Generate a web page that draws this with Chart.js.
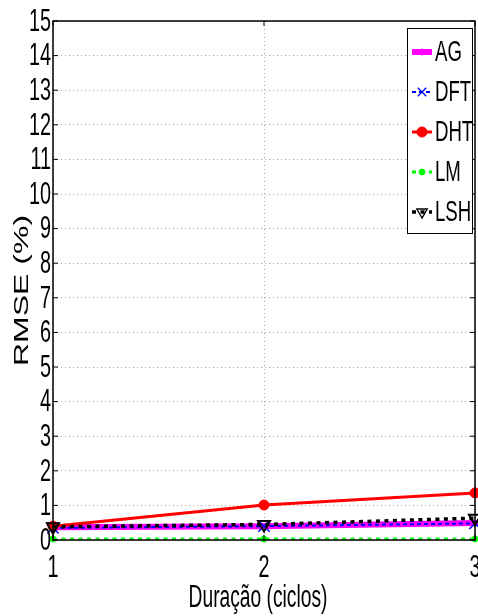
<!DOCTYPE html>
<html>
<head>
<meta charset="utf-8">
<script src="https://cdn.jsdelivr.net/npm/chart.js@4.4.0/dist/chart.umd.min.js"></script>
<style>
  html, body { margin: 0; padding: 0; background: #fff; }
  #wrap { width: 478px; height: 616px; }
</style>
</head>
<body>
<div id="wrap"><canvas id="chart"></canvas></div>
<script>
// RMSE por duração do distúrbio
const duracao = ['1', '2', '3'];
const ag  = [0.37, 0.40, 0.49];
const dft = [0.35, 0.40, 0.48];
const dht = [0.40, 1.01, 1.36];
const lm  = [0.03, 0.03, 0.03];
const lsh = [0.38, 0.45, 0.63];

const yMin = 0, yMax = 15, yStep = 1;
const xTitle = 'Duração (ciclos)';
const yTitle = 'RMSE (%)';

const FONT = '"Liberation Sans", Arial, sans-serif';
const SX = 0.62; // horizontal squeeze for all text

// draw text squeezed horizontally
function squeezed(ctx, text, x, y, size, align, baseline) {
  ctx.save();
  ctx.scale(SX, 1);
  ctx.font = size + 'px ' + FONT;
  ctx.fillStyle = '#000';
  ctx.textAlign = align;
  ctx.textBaseline = baseline;
  ctx.fillText(text, x / SX, y);
  ctx.restore();
}

const axesPlugin = {
  id: 'matlabAxes',
  afterDraw(chart) {
    const ctx = chart.ctx;
    const a = chart.chartArea;
    const xs = chart.scales.x, ys = chart.scales.y;

    // box
    ctx.save();
    ctx.strokeStyle = '#000';
    ctx.lineWidth = 1.5;
    ctx.strokeRect(a.left, a.top, a.right - a.left, a.bottom - a.top);

    // inward tick marks
    ctx.lineWidth = 1;
    ctx.beginPath();
    ys.ticks.forEach(t => {
      const y = ys.getPixelForValue(t.value);
      ctx.moveTo(a.left, y); ctx.lineTo(a.left + 5, y);
      ctx.moveTo(a.right, y); ctx.lineTo(a.right - 5, y);
    });
    xs.ticks.forEach(t => {
      const x = xs.getPixelForValue(t.value);
      ctx.moveTo(x, a.bottom); ctx.lineTo(x, a.bottom - 5);
      ctx.moveTo(x, a.top); ctx.lineTo(x, a.top + 5);
    });
    ctx.stroke();
    ctx.restore();

    // tick labels
    ys.ticks.forEach(t => {
      squeezed(ctx, String(t.value), a.left - 2, ys.getPixelForValue(t.value) + 1, 32, 'right', 'middle');
    });
    xs.ticks.forEach(t => {
      squeezed(ctx, xs.getLabelForValue(t.value), xs.getPixelForValue(t.value), a.bottom + 37, 32, 'center', 'alphabetic');
    });

    // axis titles
    squeezed(ctx, xTitle, 258, 607, 31, 'center', 'alphabetic');
    ctx.save();
    ctx.scale(SX, 1);
    ctx.translate(28 / SX, (a.top + a.bottom) / 2 + 10);
    ctx.rotate(-Math.PI / 2);
    ctx.font = '32px ' + FONT;
    ctx.fillStyle = '#000';
    ctx.textAlign = 'center';
    ctx.textBaseline = 'alphabetic';
    ctx.fillText(yTitle, 0, 0);
    ctx.restore();

    // legend
    const box = { l: 407, t: 28, r: 472, b: 233 };
    ctx.save();
    ctx.fillStyle = '#fff';
    ctx.fillRect(box.l, box.t, box.r - box.l, box.b - box.t);
    ctx.strokeStyle = '#000';
    ctx.lineWidth = 1;
    ctx.strokeRect(box.l + 0.5, box.t + 0.5, box.r - box.l, box.b - box.t);
    ctx.restore();
    chart.data.datasets.forEach((ds, i) => {
      const y = 52 + i * 40;
      ctx.save();
      ctx.strokeStyle = ds.borderColor;
      ctx.lineWidth = ds.borderWidth;
      ctx.setLineDash(ds.borderDash || []);
      ctx.beginPath();
      ctx.moveTo(412, y); ctx.lineTo(432, y);
      ctx.stroke();
      ctx.setLineDash([]);
      ctx.strokeStyle = ds.pointBorderColor;
      ctx.fillStyle = ds.pointBackgroundColor;
      ctx.lineWidth = Math.min(ds.pointBorderWidth, 1.4);
      Chart.helpers.drawPoint(ctx, {
        pointStyle: ds.pointStyle,
        rotation: ds.pointRotation || 0,
        radius: Math.min(ds.pointRadius, 6),
        borderWidth: Math.min(ds.pointBorderWidth, 1.4)
      }, 422, y);
      ctx.restore();
      squeezed(ctx, ds.label, 435, y + 1, 30, 'left', 'middle');
    });
  }
};

new Chart(document.getElementById('chart'), {
  type: 'line',
  data: {
    labels: duracao,
    datasets: [
      { label: 'AG', data: ag, order: 5, borderColor: '#ff00ff', borderWidth: 6,
        pointStyle: 'circle', pointRadius: 3, pointBorderWidth: 1,
        pointBorderColor: '#ff00ff', pointBackgroundColor: '#ff00ff' },
      { label: 'DFT', data: dft, order: 4, borderColor: '#0000ff', borderWidth: 2, borderDash: [4, 3],
        pointStyle: 'crossRot', pointRadius: 8, pointBorderWidth: 1.5,
        pointBorderColor: '#0000ff', pointBackgroundColor: '#0000ff' },
      { label: 'DHT', data: dht, order: 3, borderColor: '#ff0000', borderWidth: 3,
        pointStyle: 'circle', pointRadius: 5, pointBorderWidth: 1,
        pointBorderColor: '#ff0000', pointBackgroundColor: '#ff0000' },
      { label: 'LM', data: lm, order: 2, borderColor: '#00ff00', borderWidth: 3, borderDash: [4, 4.5],
        pointStyle: 'circle', pointRadius: 3, pointBorderWidth: 1,
        pointBorderColor: '#00ff00', pointBackgroundColor: '#00ff00' },
      { label: 'LSH', data: lsh, order: 1, borderColor: '#000000', borderWidth: 3.5, borderDash: [4, 4.5],
        pointStyle: 'triangle', pointRotation: 180, pointRadius: 7, pointBorderWidth: 2,
        pointBorderColor: '#000000', pointBackgroundColor: 'rgba(0,0,0,0)' }
    ]
  },
  options: {
    responsive: true,
    maintainAspectRatio: false,
    animation: false,
    clip: false,
    layout: { autoPadding: false, padding: { left: 53, right: 3, top: 21, bottom: 76 } },
    elements: { line: { tension: 0 } },
    plugins: { legend: { display: false }, tooltip: { enabled: false } },
    scales: {
      x: {
        type: 'category',
        offset: false,
        ticks: { display: false },
        grid: { color: '#a8a8a8', lineWidth: 1, drawTicks: false },
        border: { display: false, dash: [1, 3] }
      },
      y: {
        min: yMin, max: yMax,
        ticks: { display: false, stepSize: yStep },
        grid: { color: '#a8a8a8', lineWidth: 1, drawTicks: false },
        border: { display: false, dash: [1, 3] }
      }
    }
  },
  plugins: [axesPlugin]
});
</script>
</body>
</html>
